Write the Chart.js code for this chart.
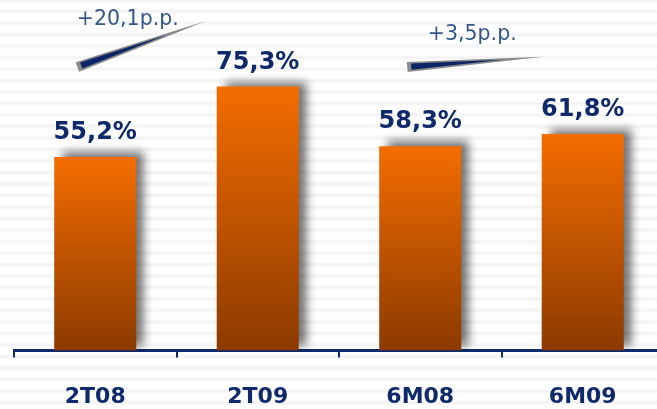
<!DOCTYPE html>
<html>
<head>
<meta charset="utf-8">
<script src="https://cdn.jsdelivr.net/npm/chart.js@4/dist/chart.umd.min.js"></script>
<style>
    html, body { margin: 0; padding: 0; overflow: hidden; }
    body {
        width: 657px; height: 409px;
        background: repeating-linear-gradient(180deg, #f2f2f2 0px, #ffffff 3px, #ffffff 8.5px, #f2f2f2 11.5px);
    }
    #wrap { position: absolute; left: 0; top: 0; width: 664px; height: 436px; }
</style>
</head>
<body>
<div id="wrap"><canvas id="grafico"></canvas></div>
<script>
// dados do gráfico
var categorias = ['2T08', '2T09', '6M08', '6M09'];
var valores = [55.2, 75.3, 58.3, 61.8];
var rotulosValor = ['55,2%', '75,3%', '58,3%', '61,8%'];

// variações (p.p.) entre os períodos
var variacaoTextos = ['+20,1p.p.', '+3,5p.p.'];
var variacaoInicio = [[-0.11, 80.9], [1.92, 80.9]];   // [índice categoria, valor]
var variacaoFim = [[0.68, 94.0], [2.755, 83.8]];
var variacaoTextoPos = [[0.2, 94.4], [2.32, 90.0]];

var azul = '#0f2a6b';

// sombra das barras
var sombraBarras = {
    id: 'sombraBarras',
    beforeDatasetDraw: function (chart) {
        var ctx = chart.ctx;
        ctx.save();
        ctx.shadowColor = 'rgba(0,0,0,0.55)';
        ctx.shadowBlur = 9;
        ctx.shadowOffsetX = 8;
        ctx.shadowOffsetY = -5;
    },
    afterDatasetDraw: function (chart) {
        chart.ctx.restore();
    }
};

// rótulos acima das barras + setas de variação
var rotulos = {
    id: 'rotulos',
    afterDatasetsDraw: function (chart) {
        var ctx = chart.ctx;
        var meta = chart.getDatasetMeta(0);
        var x = chart.scales.x, y = chart.scales.y;

        ctx.save();
        ctx.fillStyle = azul;
        ctx.font = 'bold 24px "DejaVu Sans"';
        ctx.textAlign = 'center';
        ctx.textBaseline = 'alphabetic';
        meta.data.forEach(function (bar, i) {
            ctx.fillText(rotulosValor[i], bar.x, bar.y - 18);
        });

        var px = function (p) {
            // índice fracionário -> pixel
            var w = x.getPixelForValue(1) - x.getPixelForValue(0);
            return x.getPixelForValue(0) + p * w;
        };

        variacaoTextos.forEach(function (txt, i) {
            var x0 = px(variacaoInicio[i][0]), y0 = y.getPixelForValue(variacaoInicio[i][1]);
            var x1 = px(variacaoFim[i][0]), y1 = y.getPixelForValue(variacaoFim[i][1]);
            var dx = x1 - x0, dy = y1 - y0;
            var len = Math.sqrt(dx * dx + dy * dy);
            var nx = -dy / len, ny = dx / len;

            // cunha cinza
            ctx.beginPath();
            ctx.moveTo(x0 + nx * 5, y0 + ny * 5);
            ctx.lineTo(x0 - nx * 5, y0 - ny * 5);
            ctx.lineTo(x1, y1);
            ctx.closePath();
            ctx.fillStyle = '#8a8a8a';
            ctx.fill();

            // cunha azul interna
            var ix = x0 + dx * 0.03, iy = y0 + dy * 0.03;
            var ex = x0 + dx * 0.7, ey = y0 + dy * 0.7;
            ctx.beginPath();
            ctx.moveTo(ix + nx * 3.2, iy + ny * 3.2);
            ctx.lineTo(ix - nx * 3.2, iy - ny * 3.2);
            ctx.lineTo(ex, ey);
            ctx.closePath();
            ctx.fillStyle = '#0b2566';
            ctx.fill();

            ctx.fillStyle = '#34568a';
            ctx.font = '20.5px "DejaVu Sans"';
            ctx.textBaseline = 'middle';
            ctx.fillText(txt, px(variacaoTextoPos[i][0]), y.getPixelForValue(variacaoTextoPos[i][1]));
        });
        ctx.restore();
    }
};

var ctxGrafico = document.getElementById('grafico').getContext('2d');
var grafico = new Chart(ctxGrafico, {
    type: 'bar',
    data: {
        labels: categorias,
        datasets: [{
            data: valores,
            backgroundColor: function (c) {
                var chart = c.chart;
                if (!chart.chartArea) return '#e86600';
                var y = chart.scales.y;
                var topo = y.getPixelForValue(c.raw);
                var base = y.getPixelForValue(0);
                var g = chart.ctx.createLinearGradient(0, topo, 0, base);
                g.addColorStop(0, '#f46d00');
                g.addColorStop(1, '#8c3a00');
                return g;
            },
            borderWidth: 0,
            categoryPercentage: 1,
            barPercentage: 0.505
        }]
    },
    options: {
        responsive: true,
        maintainAspectRatio: false,
        animation: false,
        layout: { padding: { left: 14, right: 0, top: 0, bottom: 0 } },
        plugins: {
            legend: { display: false },
            tooltip: { enabled: false }
        },
        scales: {
            x: {
                offset: true,
                border: { display: true, color: azul, width: 3 },
                grid: {
                    offset: true,
                    drawOnChartArea: false,
                    drawTicks: true,
                    tickLength: 7,
                    color: azul,
                    lineWidth: 2
                },
                ticks: {
                    color: azul,
                    font: { family: 'DejaVu Sans', size: 22, weight: 'bold' },
                    padding: 26
                }
            },
            y: {
                display: false,
                min: 0,
                max: 100
            }
        }
    },
    plugins: [sombraBarras, rotulos]
});
</script>
</body>
</html>
